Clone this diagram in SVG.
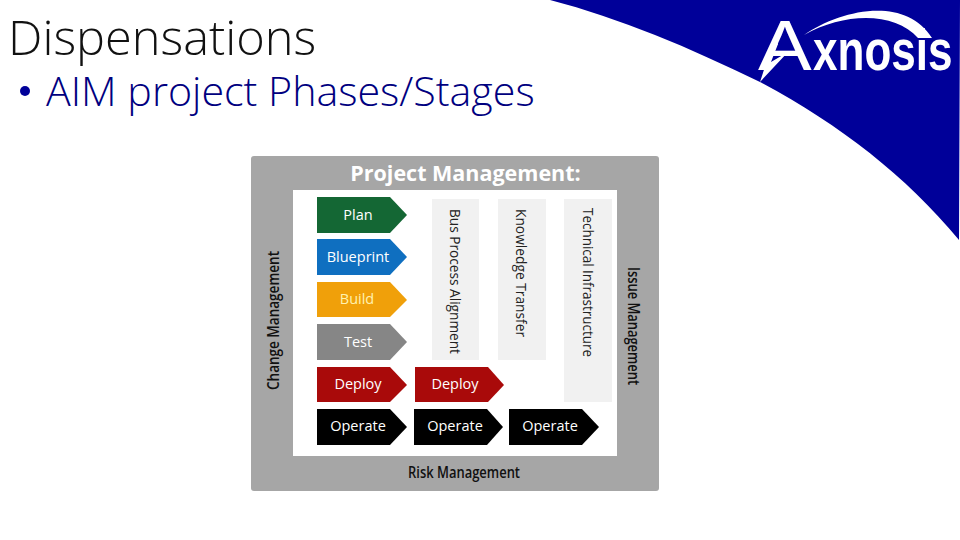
<svg xmlns="http://www.w3.org/2000/svg" width="960" height="540" viewBox="0 0 960 540">
<style>
text{font-family:"Open Sans","Noto Sans","Liberation Sans",sans-serif}
.chev{stroke:none}
.lbl{font-size:14.5px;fill:#fff;text-anchor:middle}
.col{fill:#f1f1f1}
.vt{font-size:14.3px;fill:#222;text-anchor:start}
.mg{font-size:16px;font-weight:600;fill:#111}
.logo{font-family:"Liberation Sans",sans-serif;fill:#fff}
</style>
<rect width="960" height="540" fill="#fff"/>
<path id="swoosh" d="M550 0 C 620 18 690 48 760 82 C 840 125 905 175 959 240 L960 0 Z" fill="#000099"/>
<g id="logo">
<text class="logo" transform="translate(758,70) scale(1.15,1)" font-size="70">A</text>
<path d="M760 82 L775 36 L778 44 L771 62 L788 52 Z" fill="#fff"/>
<text class="logo" transform="translate(813,70) scale(.76,1)" font-size="58" font-weight="700">xnosis</text>
<path d="M804 35 C 840 10 905 -5 932 38 L918 38 C 895 12 845 12 804 35 Z" fill="#fff"/>
</g>
<text id="title" x="8" y="55" font-size="48.7" font-weight="300" fill="#111">Dispensations</text>
<g id="subtitle">
<circle cx="25" cy="91" r="5" fill="#000099"/>
<text x="46" y="106" font-size="41.200" font-weight="300" fill="#000080">AIM project Phases/Stages</text>
</g>
<g id="panel">
<rect x="251" y="156" width="408" height="335" rx="3" fill="#a6a6a6"/>
<rect x="293" y="190" width="324" height="266" fill="#fff"/>
<text x="465.500" y="181" font-size="21.500" font-weight="700" fill="#fff" text-anchor="middle">Project Management:</text>
<text class="mg" x="408" y="478" textLength="112" lengthAdjust="spacingAndGlyphs">Risk Management</text>
<text class="mg" transform="translate(279,390) rotate(-90)" textLength="139" lengthAdjust="spacingAndGlyphs">Change Management</text>
<text class="mg" transform="translate(628,267) rotate(90)" textLength="118" lengthAdjust="spacingAndGlyphs">Issue Management</text>
</g>
<g id="col-bus"><rect class="col" x="432" y="199" width="47" height="161"/><text class="vt" transform="translate(450,209) rotate(90)" textLength="145" lengthAdjust="spacingAndGlyphs">Bus Process Alignment</text></g>
<g id="col-knowledge"><rect class="col" x="498" y="199" width="48" height="161"/><text class="vt" transform="translate(516,209) rotate(90)" textLength="128" lengthAdjust="spacingAndGlyphs">Knowledge Transfer</text></g>
<g id="col-tech"><rect class="col" x="564" y="199" width="48" height="203"/><text class="vt" transform="translate(583,208) rotate(90)" textLength="149" lengthAdjust="spacingAndGlyphs">Technical Infrastructure</text></g>
<g id="plan"><path class="chev" fill="#146734" d="M317 197H390L407 215L390 233H317Z"/><text class="lbl" x="358" y="220">Plan</text></g>
<g id="blueprint"><path class="chev" fill="#0f6fc0" d="M317 239H390L407 257L390 275H317Z"/><text class="lbl" x="358" y="262">Blueprint</text></g>
<g id="build"><path class="chev" fill="#f0a00a" d="M317 282H390L407 300L390 317H317Z"/><text class="lbl" x="357" y="304" style="fill:#fff2b0">Build</text></g>
<g id="test"><path class="chev" fill="#868686" d="M317 324H390L407 342L390 360H317Z"/><text class="lbl" x="358" y="347">Test</text></g>
<g id="deploy1"><path class="chev" fill="#a90a0a" d="M317 367H390L407 385L390 402H317Z"/><text class="lbl" x="358" y="389">Deploy</text></g>
<g id="deploy2"><path class="chev" fill="#a90a0a" d="M415 367H488L504 385L488 402H415Z"/><text class="lbl" x="455" y="389">Deploy</text></g>
<g id="operate1"><path class="chev" fill="#000" d="M317 409H390L407 427L390 445H317Z"/><text class="lbl" x="358" y="431">Operate</text></g>
<g id="operate2"><path class="chev" fill="#000" d="M414 409H487L503 427L487 445H414Z"/><text class="lbl" x="455" y="431">Operate</text></g>
<g id="operate3"><path class="chev" fill="#000" d="M509 409H582L599 427L582 445H509Z"/><text class="lbl" x="550" y="431">Operate</text></g>
<g id="connectors"/>
</svg>
